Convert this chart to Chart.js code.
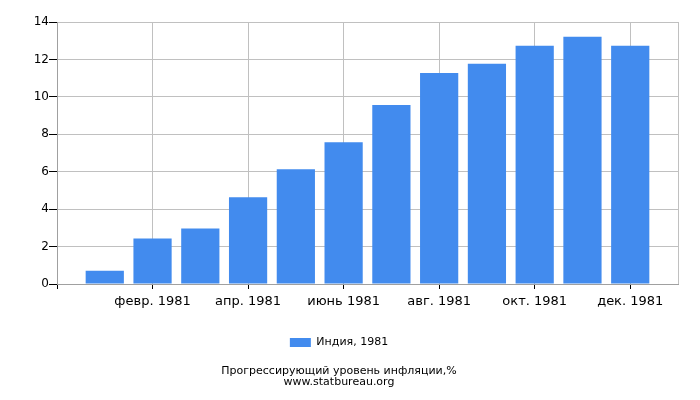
<!DOCTYPE html>
<html>
<head>
<meta charset="utf-8">
<script src="https://cdn.jsdelivr.net/npm/chart.js@4"></script>
<style>
  body { margin: 0; background: #fff; }
  #wrap { width: 700px; height: 400px; }
</style>
</head>
<body>
<div id="wrap"><canvas id="chart" width="700" height="400"></canvas></div>
<script>
// months of 1981 and the inflation values (% since start of year)
const months = ["янв. 1981", "февр. 1981", "март 1981", "апр. 1981", "май 1981", "июнь 1981",
  "июль 1981", "авг. 1981", "сент. 1981", "окт. 1981", "нояб. 1981", "дек. 1981"];
const inflation = [0.71, 2.43, 2.97, 4.63, 6.13, 7.58, 9.57, 11.28, 11.77, 12.73, 13.21, 12.73];
const seriesName = "Индия, 1981";
const titleLines = ["Прогрессирующий уровень инфляции,%", "www.statbureau.org"];

const FONT = "'DejaVu Sans', sans-serif";
const barColor = "#428bee";

// month index 1..12 on a linear axis, so the axis can run from Dec 1980 to Jan 1982
const points = inflation.map((v, i) => ({ x: i + 1, y: v }));

new Chart(document.getElementById("chart"), {
  type: "bar",
  data: {
    datasets: [
      {
        label: seriesName,
        data: points,
        backgroundColor: barColor,
        barPercentage: 0.8,
        categoryPercentage: 1,
      },
    ],
  },
  options: {
    responsive: false,
    animation: false,
    devicePixelRatio: 1,
    layout: { padding: { top: 22, right: 22, left: 0, bottom: 12 } },
    scales: {
      x: {
        type: "linear",
        offset: false,
        min: 0,
        max: 13,
        ticks: {
          stepSize: 1,
          autoSkip: false,
          maxRotation: 0,
          color: "#000",
          font: { family: FONT, size: 13 },
          padding: 5,
          callback: (v) => (v >= 2 && v <= 12 && v % 2 === 0 ? months[v - 1] : ""),
        },
        grid: {
          color: (c) => {
            const v = c.tick && c.tick.value;
            return (v % 2 === 0 && v > 0) || v === 13 ? "#c0c0c0" : "rgba(0,0,0,0)";
          },
          tickColor: (c) => {
            const v = c.tick && c.tick.value;
            return v % 2 === 0 && v < 13 ? "#000" : "rgba(0,0,0,0)";
          },
          tickLength: 5,
          offset: false,
        },
        border: { color: "#a0a0a0" },
        afterFit: (s) => { s.height = 39; },
      },
      y: {
        min: 0,
        max: 14,
        ticks: {
          stepSize: 2,
          color: "#000",
          font: { family: FONT, size: 12 },
          padding: 0,
        },
        grid: { color: "#c0c0c0", tickColor: "#000", tickLength: 8 },
        border: { color: "#a0a0a0" },
        afterFit: (s) => { s.width = 57; },
      },
    },
    plugins: {
      legend: {
        position: "bottom",
        labels: {
          color: "#000",
          font: { family: FONT, size: 11 },
          boxWidth: 21,
          boxHeight: 9,
          padding: 14,
        },
      },
      title: {
        display: true,
        position: "bottom",
        text: titleLines,
        color: "#000",
        font: { family: FONT, size: 11, weight: "normal", lineHeight: 1.0 },
        padding: { top: 8, bottom: 0 },
      },
      tooltip: { enabled: false },
    },
  },
});
</script>
</body>
</html>
